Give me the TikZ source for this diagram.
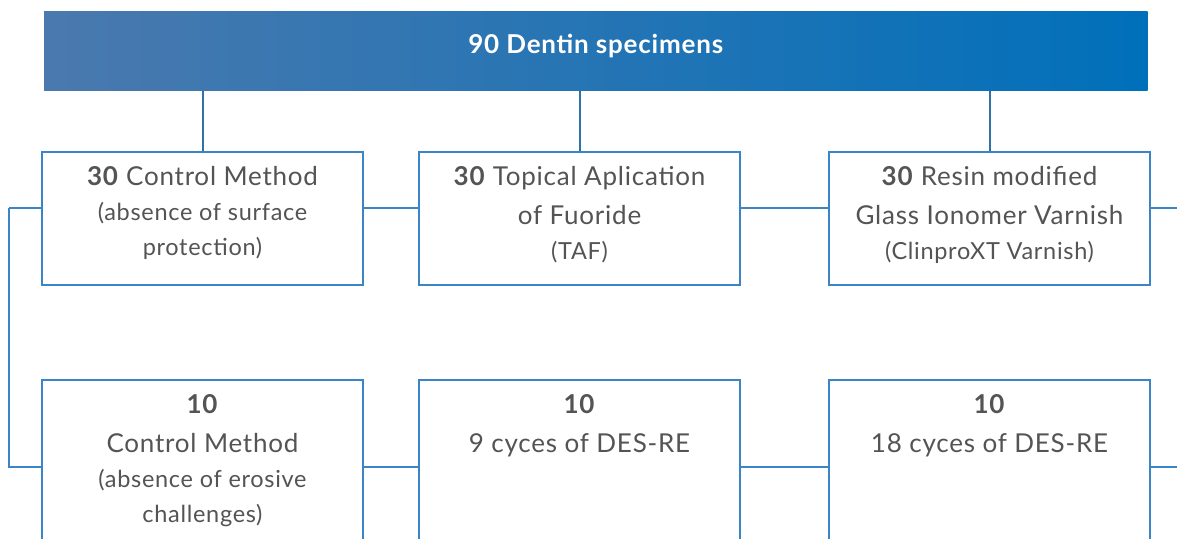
\documentclass[tikz,border=0pt]{standalone}
\usepackage{fontspec}
\setmainfont{Lato}[LetterSpace=3]

\definecolor{headleft}{HTML}{4A79AE}
\definecolor{headright}{HTML}{0070BA}
\definecolor{linkblue}{HTML}{3B84C6}
\definecolor{textgray}{HTML}{545454}

% one line of a group box, large or small type
\newcommand{\bigline}[1]{{\fontsize{26}{39}\selectfont #1\par}}
\newcommand{\smallline}[1]{{\fontsize{23.5}{35}\selectfont #1\par}}
% box body: fixed size, text from the top
\newcommand{\grpbox}[2]{\parbox[c][#1][t]{321pt}{\centering\vspace*{14.5pt}#2}}

\tikzset{
  head/.style={left color=headleft, right color=headright, minimum width=1103.5pt,
    minimum height=79.5pt, inner sep=0pt, text=white,
    font=\fontsize{26}{29}\selectfont\bfseries},
  group/.style={draw=linkblue, line width=1.2pt, fill=white, inner sep=0pt, text=textgray},
  link/.style={draw=linkblue, line width=1.2pt},
  drop/.style={draw=linkblue!85!black, line width=2pt}
}

\begin{document}
\begin{tikzpicture}[x=1pt, y=-1pt]
	\useasboundingbox (0,0) rectangle (1177,538);
	\clip (0,0) rectangle (1177,538);

	% Specimens
	\node[head] (spec) at (595.75,50.75) {\raisebox{5pt}[\height][\depth]{90 Dentin specimens}};

	% Surface treatment groups
	\node[group] (ctrl) at (202.5,218.5) {\grpbox{133pt}{%
		\bigline{\textbf{30} Control Method}
		\smallline{(absence of surface}
		\smallline{protection)}}};
	\node[group] (taf) at (579.5,218.5) {\grpbox{133pt}{%
		\bigline{\textbf{30} Topical Aplication}
		\bigline{of Fuoride}
		\smallline{(TAF)}}};
	\node[group] (civ) at (989.5,218.5) {\grpbox{133pt}{%
		\bigline{\textbf{30} Resin modified}
		\bigline{Glass Ionomer Varnish}
		\smallline{(ClinproXT Varnish)}}};

	% Erosive challenge subgroups
	\node[group] (noero) at (202.5,480) {\grpbox{200pt}{%
		\bigline{\textbf{10}}
		\bigline{Control Method}
		\smallline{(absence of erosive}
		\smallline{challenges)}}};
	\node[group] (cyc9) at (579.5,480) {\grpbox{200pt}{%
		\bigline{\textbf{10}}
		\bigline{9 cyces of DES-RE}}};
	\node[group] (cyc18) at (989.5,480) {\grpbox{200pt}{%
		\bigline{\textbf{10}}
		\bigline{18 cyces of DES-RE}}};

	% Free ends of the side lines
	\coordinate (lt) at (9,208);
	\coordinate (lb) at (9,467);
	\coordinate (rt) at (1177,208);
	\coordinate (rb) at (1177,467);

	% Drops from the specimens bar
	\draw[drop] (spec.south -| ctrl.north) -- (ctrl.north);
	\draw[drop] (spec.south -| taf.north) -- (taf.north);
	\draw[drop] (spec.south -| civ.north) -- (civ.north);

	% Top row links
	\draw[link] (lt) -- (lt -| ctrl.west);
	\draw[link] (ctrl.east |- lt) -- (taf.west |- lt);
	\draw[link] (taf.east |- lt) -- (civ.west |- lt);
	\draw[link] (civ.east |- rt) -- (rt);

	% Bottom row links
	\draw[link] (lt) -- (lb) -- (lb -| noero.west);
	\draw[link] (noero.east |- lb) -- (cyc9.west |- lb);
	\draw[link] (cyc9.east |- lb) -- (cyc18.west |- lb);
	\draw[link] (cyc18.east |- rb) -- (rb);
\end{tikzpicture}
\end{document}
